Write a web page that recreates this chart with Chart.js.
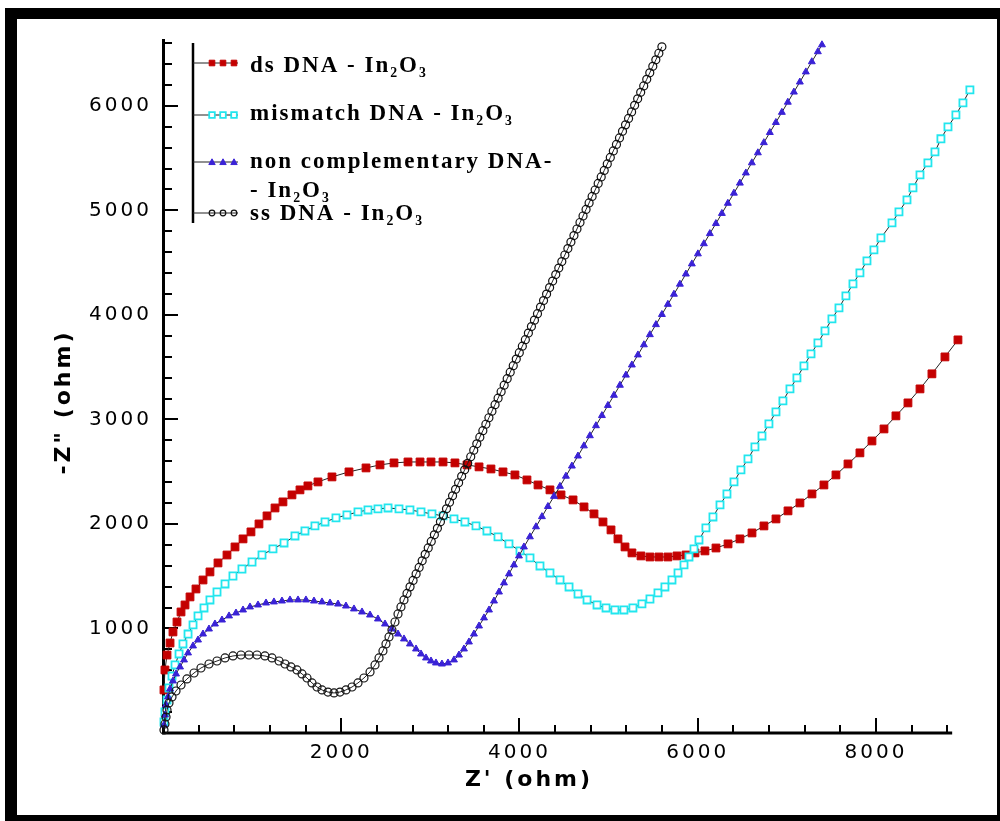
<!DOCTYPE html>
<html>
<head>
<meta charset="utf-8">
<title>Nyquist plot - DNA / In2O3</title>
<script src="https://cdn.jsdelivr.net/npm/chart.js@4.4.0/dist/chart.umd.min.js"></script>
<style>
    body { margin: 0; background: #fff; }
    #wrap { position: relative; width: 1000px; height: 821px; overflow: hidden; }
    #plot { position: absolute; left: 0; top: 0; }
    #frame {
        position: absolute; left: 5px; top: 8px; width: 980px; height: 796px;
        border-style: solid; border-color: #000; border-width: 11px 3px 6px 12px;
        pointer-events: none;
    }
</style>
</head>
<body>
<div id="wrap">
    <canvas id="plot" width="1000" height="821"></canvas>
    <div id="frame"></div>
</div>
<script>
// Series names (legend)
const seriesNames = [
    ['ds DNA - In₂O₃'],
    ['mismatch DNA - In₂O₃'],
    ['non complementary DNA-', '- In₂O₃'],
    ['ss DNA - In₂O₃']
];
const xTitle = "Z' (ohm)";
const yTitle = '-Z" (ohm)';

// ds DNA - In2O3 : Z' and -Z'' (ohm)
const dsZre = [11, 22, 45, 79, 112, 157, 202, 247, 303, 370, 449, 527, 617, 718, 808, 898, 987, 1077, 1167, 1257,
    1346, 1447, 1537, 1626, 1739, 1896, 2087, 2278, 2435, 2592, 2749, 2884, 3007, 3142, 3276, 3411, 3546, 3680, 3815, 3949,
    4084, 4208, 4342, 4466, 4601, 4724, 4836, 4937, 5027, 5105, 5184, 5262, 5363, 5464, 5565, 5666, 5767, 5868, 5969, 6081,
    6205, 6340, 6474, 6609, 6743, 6878, 7013, 7147, 7282, 7416, 7551, 7686, 7820, 7955, 8090, 8224, 8359, 8494, 8628, 8774, 8920];
const dsZim = [412, 603, 746, 861, 967, 1062, 1158, 1225, 1302, 1378, 1464, 1541, 1627, 1703, 1780, 1857, 1924, 2000, 2077, 2153,
    2211, 2278, 2326, 2364, 2402, 2450, 2498, 2536, 2565, 2584, 2593, 2593, 2593, 2593, 2584, 2565, 2546, 2526, 2498, 2469,
    2421, 2373, 2326, 2278, 2230, 2163, 2096, 2019, 1943, 1857, 1780, 1723, 1694, 1684, 1684, 1684, 1694, 1703, 1723, 1742,
    1770, 1809, 1857, 1914, 1981, 2048, 2125, 2201, 2287, 2373, 2469, 2574, 2680, 2794, 2909, 3034, 3158, 3292, 3436, 3598, 3761];

// mismatch DNA - In2O3
const misZre = [11, 22, 45, 67, 101, 135, 180, 224, 281, 337, 393, 460, 527, 606, 696, 785, 886, 999, 1111, 1234,
    1358, 1481, 1593, 1705, 1818, 1941, 2064, 2188, 2300, 2412, 2525, 2648, 2771, 2895, 3018, 3142, 3265, 3388, 3512, 3635,
    3759, 3882, 4006, 4118, 4230, 4342, 4455, 4556, 4657, 4758, 4870, 4971, 5071, 5172, 5273, 5374, 5464, 5554, 5632, 5711,
    5779, 5846, 5902, 5958, 6014, 6092, 6171, 6250, 6328, 6407, 6485, 6564, 6642, 6721, 6799, 6878, 6956, 7035, 7113, 7192,
    7271, 7349, 7428, 7506, 7585, 7663, 7742, 7820, 7899, 7977, 8056, 8180, 8258, 8348, 8415, 8494, 8583, 8662, 8729, 8808,
    8897, 8976, 9054];
const misZim = [105, 201, 316, 431, 545, 651, 756, 852, 947, 1034, 1120, 1196, 1273, 1349, 1426, 1502, 1569, 1636, 1703, 1761,
    1818, 1885, 1933, 1981, 2019, 2058, 2086, 2115, 2134, 2144, 2153, 2144, 2134, 2115, 2096, 2077, 2048, 2019, 1981, 1933,
    1876, 1809, 1742, 1675, 1598, 1531, 1464, 1397, 1330, 1273, 1225, 1196, 1177, 1177, 1196, 1235, 1282, 1340, 1397, 1464,
    1531, 1608, 1684, 1761, 1847, 1962, 2067, 2182, 2287, 2402, 2517, 2622, 2737, 2842, 2957, 3072, 3177, 3292, 3397, 3512,
    3627, 3732, 3847, 3962, 4067, 4182, 4297, 4402, 4517, 4622, 4737, 4881, 4986, 5101, 5216, 5340, 5455, 5560, 5685, 5799,
    5914, 6029, 6153];

// non complementary DNA - In2O3
const ncZre = [11, 22, 34, 56, 79, 112, 146, 191, 236, 281, 337, 393, 449, 516, 583, 662, 741, 819, 898, 976,
    1066, 1156, 1245, 1335, 1425, 1515, 1604, 1694, 1784, 1874, 1964, 2053, 2143, 2233, 2323, 2412, 2491, 2569, 2637, 2704,
    2771, 2839, 2895, 2951, 3007, 3063, 3130, 3198, 3265, 3321, 3377, 3433, 3489, 3546, 3602, 3658, 3714, 3770, 3826, 3882,
    3938, 3994, 4050, 4117, 4185, 4252, 4319, 4387, 4454, 4521, 4588, 4656, 4723, 4790, 4858, 4925, 4992, 5060, 5127, 5194,
    5261, 5329, 5396, 5463, 5531, 5598, 5665, 5733, 5800, 5867, 5934, 6002, 6069, 6136, 6204, 6271, 6338, 6406, 6473, 6540,
    6607, 6675, 6742, 6809, 6877, 6944, 7011, 7079, 7146, 7213, 7280, 7348, 7394];
const ncZim = [77, 172, 268, 345, 421, 498, 565, 632, 699, 766, 833, 890, 947, 995, 1043, 1081, 1120, 1148, 1177, 1206,
    1225, 1244, 1254, 1263, 1273, 1273, 1273, 1263, 1254, 1244, 1234, 1215, 1187, 1158, 1129, 1091, 1043, 995, 947, 900,
    852, 804, 756, 718, 689, 670, 660, 670, 699, 746, 804, 871, 947, 1024, 1101, 1177, 1263, 1349, 1436, 1522,
    1608, 1694, 1780, 1877, 1973, 2070, 2167, 2264, 2360, 2457, 2554, 2650, 2747, 2844, 2940, 3037, 3134, 3231, 3327, 3424,
    3521, 3617, 3714, 3811, 3907, 4004, 4101, 4198, 4294, 4391, 4488, 4584, 4681, 4778, 4874, 4971, 5068, 5165, 5261, 5358,
    5455, 5551, 5648, 5745, 5841, 5938, 6035, 6132, 6228, 6325, 6422, 6518, 6584];

// ss DNA - In2O3
const ssZre = [11, 22, 34, 45, 67, 101, 146, 202, 269, 348, 426, 516, 606, 696, 785, 875, 965, 1055, 1144, 1223,
    1302, 1369, 1436, 1503, 1560, 1616, 1672, 1728, 1784, 1851, 1919, 1986, 2053, 2121, 2188, 2255, 2323, 2379, 2424, 2468,
    2502, 2536, 2569, 2603, 2637, 2670, 2704, 2738, 2772, 2806, 2840, 2874, 2908, 2942, 2976, 3010, 3045, 3079, 3113, 3147,
    3181, 3215, 3249, 3283, 3317, 3351, 3385, 3419, 3453, 3487, 3521, 3555, 3589, 3623, 3657, 3691, 3726, 3760, 3794, 3828,
    3862, 3896, 3930, 3964, 3998, 4032, 4066, 4100, 4134, 4168, 4202, 4236, 4270, 4304, 4338, 4372, 4407, 4441, 4475, 4509,
    4543, 4577, 4611, 4645, 4679, 4713, 4747, 4781, 4815, 4849, 4883, 4917, 4951, 4985, 5019, 5053, 5088, 5122, 5156, 5190,
    5224, 5258, 5292, 5326, 5360, 5394, 5428, 5462, 5496, 5530, 5564, 5598];
const ssZim = [29, 86, 153, 220, 287, 345, 402, 459, 517, 574, 622, 660, 689, 718, 737, 746, 746, 746, 737, 718,
    689, 660, 632, 603, 565, 526, 479, 440, 412, 392, 383, 392, 412, 440, 479, 526, 584, 651, 718, 785,
    852, 919, 986, 1062, 1139, 1206, 1273, 1335, 1398, 1460, 1522, 1584, 1647, 1709, 1771, 1833, 1896, 1958, 2020, 2082,
    2145, 2207, 2269, 2331, 2394, 2456, 2518, 2580, 2643, 2705, 2767, 2830, 2892, 2954, 3016, 3079, 3141, 3203, 3265, 3328,
    3390, 3452, 3514, 3577, 3639, 3701, 3763, 3826, 3888, 3950, 4012, 4075, 4137, 4199, 4261, 4324, 4386, 4448, 4510, 4573,
    4635, 4697, 4759, 4822, 4884, 4946, 5009, 5071, 5133, 5195, 5258, 5320, 5382, 5444, 5507, 5569, 5631, 5693, 5756, 5818,
    5880, 5942, 6005, 6067, 6129, 6191, 6254, 6316, 6378, 6440, 6503, 6565];

// Axis ticks (minor every 400 / 200, labelled majors)
const xTicks = [400, 800, 1200, 1600, 2000, 2400, 2800, 3200, 3600, 4000, 4400, 4800, 5200, 5600, 6000, 6400, 6800, 7200, 7600, 8000, 8400, 8800];
const xLabels = [2000, 4000, 6000, 8000];
const xAxisEnd = 8855;   // drawn x axis stops here, data runs a bit past it
const yTicks = [200, 400, 600, 800, 1000, 1200, 1400, 1600, 1800, 2000, 2200, 2400, 2600, 2800, 3000, 3200, 3400,
    3600, 3800, 4000, 4200, 4400, 4600, 4800, 5000, 5200, 5400, 5600, 5800, 6000, 6200, 6400, 6600];
const yLabels = [1000, 2000, 3000, 4000, 5000, 6000];

// Marker styles per series
const markerStyles = [
    { shape: 'rect', fill: '#c40000', stroke: '#c40000', radius: 5.5, width: 1 },
    { shape: 'rect', fill: '#ffffff', stroke: '#22e6ee', radius: 5, width: 1.8 },
    { shape: 'triangle', fill: '#3a22d6', stroke: '#3a22d6', radius: 4, width: 1 },
    { shape: 'circle', fill: 'rgba(0,0,0,0)', stroke: '#111111', radius: 4, width: 1.2 }
];

function toPoints(xs, ys) {
    return xs.map((v, i) => ({ x: v, y: ys[i] }));
}

const seriesData = [
    toPoints(dsZre, dsZim),
    toPoints(misZre, misZim),
    toPoints(ncZre, ncZim),
    toPoints(ssZre, ssZim)
];
// drawing order: ss on top, ds at the bottom
const drawOrder = [3, 2, 1, 0];

// Stretch axis text a little, like the original picture
const spacingPlugin = {
    id: 'spacing',
    beforeDraw(chart) {
        chart.ctx.letterSpacing = '3px';
    }
};

// X axis line (shorter than the plot area) and tick marks drawn inside the plot
const innerTicks = {
    id: 'innerTicks',
    beforeDatasetsDraw(chart) {
        const { ctx, chartArea, scales } = chart;
        ctx.save();
        ctx.strokeStyle = '#000';
        ctx.lineWidth = 3;
        ctx.beginPath();
        ctx.moveTo(chartArea.left - 1, chartArea.bottom);
        ctx.lineTo(scales.x.getPixelForValue(xAxisEnd), chartArea.bottom);
        ctx.stroke();

        ctx.lineWidth = 2;
        ctx.beginPath();
        scales.x.ticks.forEach(t => {
            const px = Math.round(scales.x.getPixelForValue(t.value));
            const len = xLabels.includes(t.value) ? 15 : 8;
            ctx.moveTo(px, chartArea.bottom);
            ctx.lineTo(px, chartArea.bottom - len);
        });
        scales.y.ticks.forEach(t => {
            const py = Math.round(scales.y.getPixelForValue(t.value));
            const len = yLabels.includes(t.value) ? 15 : 9;
            ctx.moveTo(chartArea.left, py);
            ctx.lineTo(chartArea.left + len, py);
        });
        ctx.stroke();
        ctx.restore();
    }
};

// Axis titles, placed like the original
const axisTitles = {
    id: 'axisTitles',
    afterDraw(chart) {
        const ctx = chart.ctx;
        ctx.save();
        ctx.font = 'bold 22px "DejaVu Sans", sans-serif';
        ctx.letterSpacing = '3px';
        ctx.fillStyle = '#000';
        ctx.textAlign = 'center';
        ctx.textBaseline = 'middle';
        ctx.fillText(xTitle, 529, 780);
        ctx.translate(64, 402);
        ctx.rotate(-Math.PI / 2);
        ctx.fillText(yTitle, 0, 0);
        ctx.restore();
    }
};

function drawMarker(ctx, st, x, y, r) {
    ctx.beginPath();
    if (st.shape === 'rect') {
        ctx.rect(x - r, y - r, 2 * r, 2 * r);
    } else if (st.shape === 'triangle') {
        ctx.moveTo(x, y - r);
        ctx.lineTo(x + r, y + r * 0.8);
        ctx.lineTo(x - r, y + r * 0.8);
        ctx.closePath();
    } else {
        ctx.arc(x, y, r, 0, Math.PI * 2);
    }
    ctx.fillStyle = st.fill;
    ctx.fill();
    ctx.lineWidth = st.width;
    ctx.strokeStyle = st.stroke;
    ctx.stroke();
}

// Legend inside the plot, with its own vertical rule
const insideLegend = {
    id: 'insideLegend',
    afterDraw(chart) {
        const ctx = chart.ctx;
        const lineX = 193;
        const rows = [63, 115, 162, 213];
        const baselines = [[72], [120], [168, 197], [220]];
        ctx.save();
        ctx.strokeStyle = '#000';
        ctx.lineWidth = 2.5;
        ctx.beginPath();
        ctx.moveTo(lineX, 43);
        ctx.lineTo(lineX, 223);
        ctx.stroke();

        ctx.font = 'bold 23px "Liberation Serif", "DejaVu Serif", serif';
        ctx.letterSpacing = '2px';
        ctx.textAlign = 'left';
        ctx.textBaseline = 'alphabetic';
        seriesNames.forEach((lines, i) => {
            const y = rows[i];
            ctx.strokeStyle = '#222';
            ctx.lineWidth = 1.2;
            ctx.beginPath();
            ctx.moveTo(lineX, y);
            ctx.lineTo(238, y);
            ctx.stroke();
            const st = markerStyles[i];
            [212, 223, 234].forEach(mx => drawMarker(ctx, st, mx, y, st.shape === 'triangle' ? 3.2 : 2.8));
            ctx.fillStyle = '#000';
            lines.forEach((txt, k) => ctx.fillText(txt, 250, baselines[i][k]));
        });
        ctx.restore();
    }
};

const tickFont = { family: '"DejaVu Sans", sans-serif', size: 20 };

new Chart(document.getElementById('plot'), {
    type: 'scatter',
    data: {
        datasets: seriesData.map((pts, i) => ({
            label: seriesNames[i].join(' '),
            data: pts,
            showLine: true,
            tension: 0,
            borderColor: '#222',
            borderWidth: 1,
            pointStyle: markerStyles[i].shape,
            pointRadius: markerStyles[i].radius,
            pointHoverRadius: markerStyles[i].radius,
            pointBackgroundColor: markerStyles[i].fill,
            pointBorderColor: markerStyles[i].stroke,
            pointBorderWidth: markerStyles[i].width,
            clip: false,
            order: drawOrder[i]
        }))
    },
    options: {
        responsive: false,
        animation: false,
        devicePixelRatio: 1,
        layout: { padding: { left: 17, top: 40, right: 26, bottom: 6 } },
        plugins: {
            legend: { display: false },
            tooltip: { enabled: false }
        },
        scales: {
            x: {
                type: 'linear',
                min: 0,
                max: 9100,
                afterBuildTicks: scale => { scale.ticks = xTicks.map(v => ({ value: v })); },
                afterFit: scale => { scale.height = 82; },
                ticks: {
                    callback: v => xLabels.includes(v) ? String(v) : '',
                    font: tickFont,
                    color: '#000',
                    padding: 8,
                    maxRotation: 0,
                    autoSkip: false
                },
                grid: { display: false, drawTicks: false },
                border: { display: false },
                title: { display: false }
            },
            y: {
                type: 'linear',
                min: 0,
                max: 6630,
                afterBuildTicks: scale => { scale.ticks = yTicks.map(v => ({ value: v })); },
                afterFit: scale => { scale.width = 146; },
                ticks: {
                    callback: v => yLabels.includes(v) ? String(v) : '',
                    font: tickFont,
                    color: '#000',
                    padding: 11,
                    autoSkip: false
                },
                grid: { display: false, drawTicks: false },
                border: { display: true, color: '#000', width: 3 },
                title: { display: false }
            }
        }
    },
    plugins: [spacingPlugin, innerTicks, axisTitles, insideLegend]
});
</script>
</body>
</html>
